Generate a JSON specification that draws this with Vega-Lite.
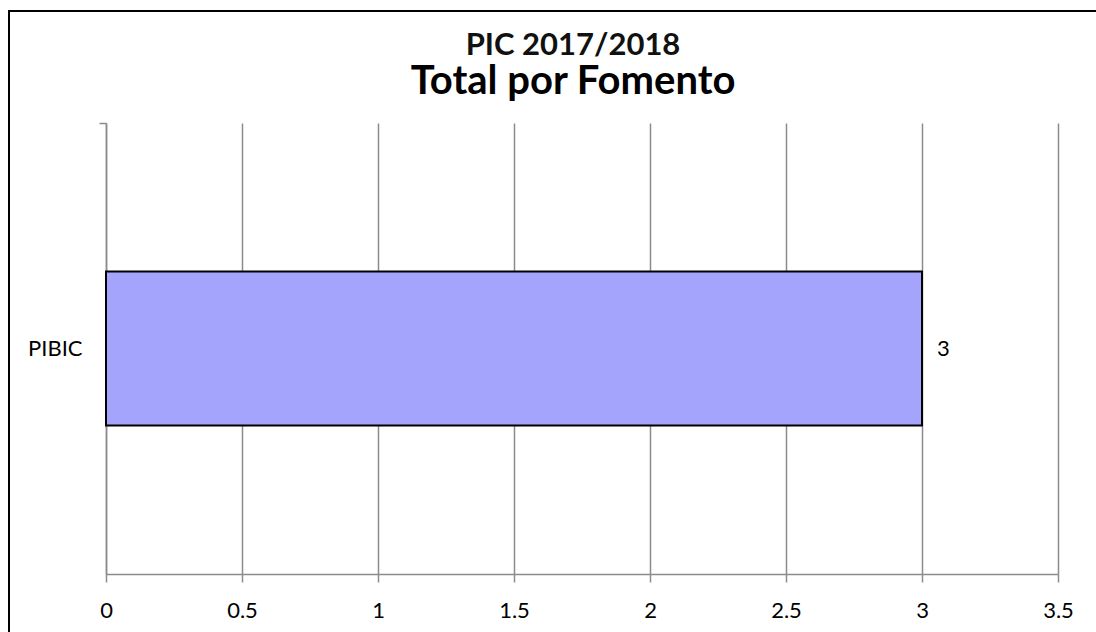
{
  "$schema": "https://vega.github.io/schema/vega-lite/v6.json",
  "width": 1128,
  "height": 675,
  "autosize": {"type": "none"},
  "padding": {"left": 9, "top": 11, "right": 0, "bottom": 0},
  "background": "white",
  "config": {
    "view": {"stroke": "black", "strokeWidth": 2},
    "font": "Lato"
  },
  "title": {
    "text": "PIC 2017/2018",
    "subtitle": "Total por Fomento",
    "anchor": "middle",
    "frame": "group",
    "orient": "top",
    "offset": -92,
    "font": "Lato",
    "fontSize": 31,
    "fontWeight": "bold",
    "color": "#111111",
    "subtitleFont": "Lato",
    "subtitleFontSize": 40,
    "subtitleFontWeight": "bold",
    "subtitleColor": "black",
    "subtitlePadding": 0
  },
  "data": {"values": [{"Fomento": "PIBIC", "Total": 3}]},
  "encoding": {
    "y": {
      "field": "Fomento",
      "type": "nominal",
      "scale": {"range": [112, 563], "paddingInner": 0, "paddingOuter": 0},
      "axis": {
        "title": null,
        "orient": "left",
        "offset": -97,
        "bandPosition": 0,
        "domainColor": "#8c8c8c",
        "domainWidth": 1.5,
        "tickColor": "#8c8c8c",
        "tickWidth": 1.5,
        "tickSize": 7,
        "labelPadding": 17,
        "labelFont": "Lato",
        "labelFontSize": 22,
        "labelColor": "black",
        "grid": false
      }
    },
    "x": {
      "field": "Total",
      "type": "quantitative",
      "scale": {"domain": [0, 3.5], "range": [97, 1049], "nice": false, "zero": true},
      "axis": {
        "title": null,
        "orient": "bottom",
        "offset": -112,
        "values": [0, 0.5, 1, 1.5, 2, 2.5, 3, 3.5],
        "format": "~g",
        "grid": true,
        "gridColor": "#8c8c8c",
        "gridWidth": 1.5,
        "gridOpacity": 1,
        "domainColor": "#8c8c8c",
        "domainWidth": 1.5,
        "tickColor": "#8c8c8c",
        "tickWidth": 1.5,
        "tickSize": 8,
        "labelPadding": 18,
        "labelFont": "Lato",
        "labelFontSize": 22,
        "labelColor": "black",
        "labelFlush": false
      }
    }
  },
  "layer": [
    {
      "mark": {
        "type": "bar",
        "height": {"band": 0.3415},
        "fill": "#a4a4fd",
        "stroke": "black",
        "strokeWidth": 2
      }
    },
    {
      "mark": {
        "type": "text",
        "align": "left",
        "baseline": "middle",
        "dx": 15,
        "font": "Lato",
        "fontSize": 22,
        "color": "black"
      },
      "encoding": {"text": {"field": "Total", "type": "quantitative"}}
    }
  ]
}
